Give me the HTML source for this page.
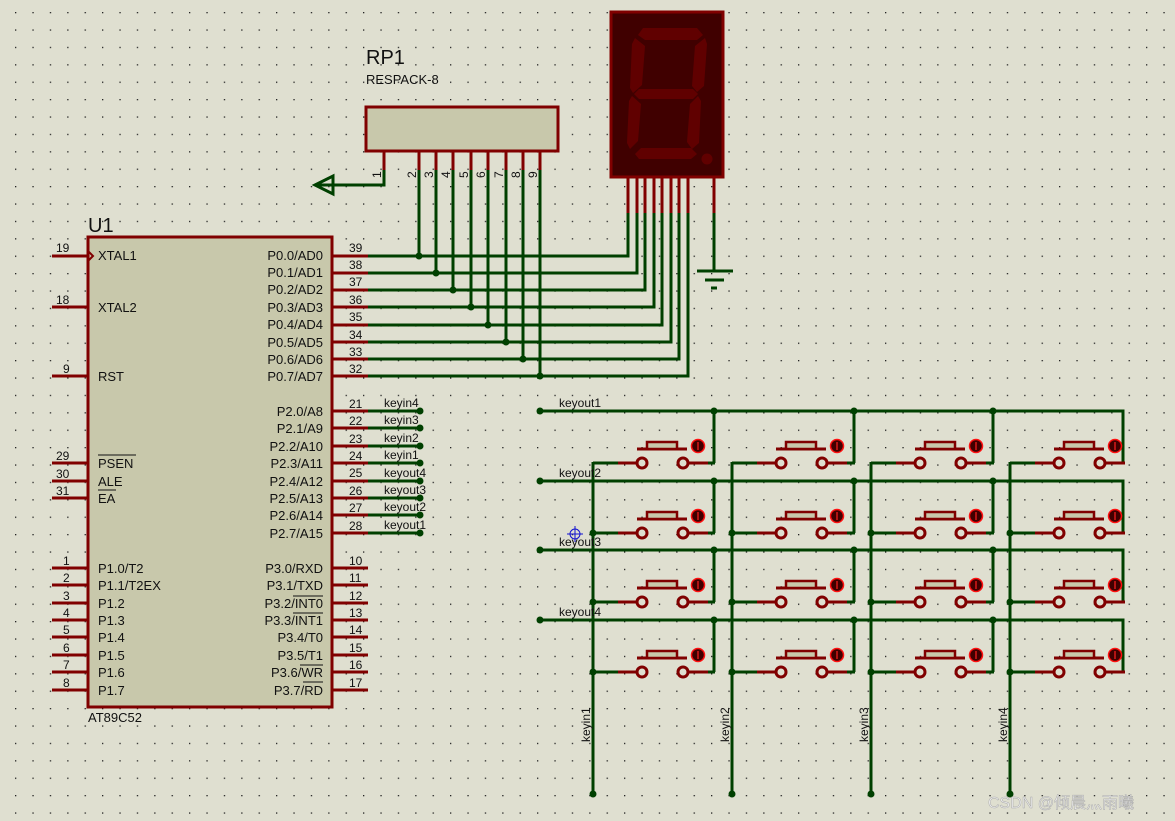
<!DOCTYPE html>
<html><head><meta charset="utf-8"><style>
html,body{margin:0;padding:0;background:#dfdfd0;}
svg{display:block;font-family:"Liberation Sans",Arial,sans-serif;}
</style></head><body>
<svg width="1175" height="821" viewBox="0 0 1175 821" xmlns="http://www.w3.org/2000/svg">
<defs>
<pattern id="dots" x="15" y="12" width="17.4" height="17.4" patternUnits="userSpaceOnUse">
<rect x="0" y="0" width="1.3" height="1.3" fill="#222"/>
</pattern>
<g id="btn">
<line x1="-24" y1="0" x2="-5" y2="0" stroke="#800000" stroke-width="3"/>
<line x1="46" y1="0" x2="66" y2="0" stroke="#800000" stroke-width="3"/>
<circle cx="0" cy="0" r="5" fill="#dfdfd0" stroke="#800000" stroke-width="3"/>
<circle cx="41" cy="0" r="5" fill="#dfdfd0" stroke="#800000" stroke-width="3"/>
<line x1="-5" y1="-14" x2="45" y2="-14" stroke="#800000" stroke-width="3"/>
<rect x="5" y="-21" width="30" height="7" fill="#c8c8ab" stroke="#800000" stroke-width="2.5"/>
<circle cx="56" cy="-17" r="6.5" fill="#400000" stroke="#ff1010" stroke-width="1.5"/>
<line x1="56" y1="-21" x2="56" y2="-13" stroke="#ff2020" stroke-width="1.2"/>
</g>
</defs>
<rect width="1175" height="821" fill="#dfdfd0"/>
<rect width="1175" height="821" fill="url(#dots)"/>

<!-- MCU -->
<text x="88" y="232" font-size="20" fill="#111">U1</text>
<rect x="88" y="237" width="244" height="470" fill="#c8c8ab" stroke="#800000" stroke-width="3"/>
<text x="88" y="722" font-size="13" fill="#111">AT89C52</text>
<g stroke="#800000" stroke-width="3">
<line x1="52" y1="256" x2="88" y2="256"/><line x1="52" y1="307" x2="88" y2="307"/><line x1="52" y1="376" x2="88" y2="376"/>
<line x1="52" y1="463" x2="88" y2="463"/><line x1="52" y1="481" x2="88" y2="481"/><line x1="52" y1="498" x2="88" y2="498"/>
<line x1="52" y1="568" x2="88" y2="568"/><line x1="52" y1="585" x2="88" y2="585"/><line x1="52" y1="603" x2="88" y2="603"/><line x1="52" y1="620" x2="88" y2="620"/>
<line x1="52" y1="637" x2="88" y2="637"/><line x1="52" y1="655" x2="88" y2="655"/><line x1="52" y1="672" x2="88" y2="672"/><line x1="52" y1="690" x2="88" y2="690"/>
<line x1="332" y1="256" x2="368" y2="256"/><line x1="332" y1="273" x2="368" y2="273"/><line x1="332" y1="290" x2="368" y2="290"/><line x1="332" y1="307" x2="368" y2="307"/>
<line x1="332" y1="325" x2="368" y2="325"/><line x1="332" y1="342" x2="368" y2="342"/><line x1="332" y1="359" x2="368" y2="359"/><line x1="332" y1="376" x2="368" y2="376"/>
<line x1="332" y1="411" x2="368" y2="411"/><line x1="332" y1="428" x2="368" y2="428"/><line x1="332" y1="446" x2="368" y2="446"/><line x1="332" y1="463" x2="368" y2="463"/>
<line x1="332" y1="481" x2="368" y2="481"/><line x1="332" y1="498" x2="368" y2="498"/><line x1="332" y1="515" x2="368" y2="515"/><line x1="332" y1="533" x2="368" y2="533"/>
<line x1="332" y1="568" x2="368" y2="568"/><line x1="332" y1="585" x2="368" y2="585"/><line x1="332" y1="603" x2="368" y2="603"/><line x1="332" y1="620" x2="368" y2="620"/>
<line x1="332" y1="637" x2="368" y2="637"/><line x1="332" y1="655" x2="368" y2="655"/><line x1="332" y1="672" x2="368" y2="672"/><line x1="332" y1="690" x2="368" y2="690"/>
</g>
<polyline points="88,251 93,256 88,261" fill="none" stroke="#800000" stroke-width="2"/>
<g font-size="12" fill="#111">
<text x="56" y="252">19</text><text x="56" y="304">18</text><text x="63" y="373">9</text>
<text x="56" y="460">29</text><text x="56" y="478">30</text><text x="56" y="495">31</text>
<text x="63" y="565">1</text><text x="63" y="582">2</text><text x="63" y="600">3</text><text x="63" y="617">4</text>
<text x="63" y="634">5</text><text x="63" y="652">6</text><text x="63" y="669">7</text><text x="63" y="687">8</text>
<text x="349" y="252">39</text><text x="349" y="269">38</text><text x="349" y="286">37</text><text x="349" y="304">36</text>
<text x="349" y="321">35</text><text x="349" y="339">34</text><text x="349" y="356">33</text><text x="349" y="373">32</text>
<text x="349" y="408">21</text><text x="349" y="425">22</text><text x="349" y="443">23</text><text x="349" y="460">24</text>
<text x="349" y="477">25</text><text x="349" y="495">26</text><text x="349" y="512">27</text><text x="349" y="530">28</text>
<text x="349" y="565">10</text><text x="349" y="582">11</text><text x="349" y="600">12</text><text x="349" y="617">13</text>
<text x="349" y="634">14</text><text x="349" y="652">15</text><text x="349" y="669">16</text><text x="349" y="687">17</text>
</g>
<g font-size="13" fill="#111">
<text x="98" y="260">XTAL1</text><text x="98" y="312">XTAL2</text><text x="98" y="381">RST</text>
<text x="98" y="468">PSEN</text><text x="98" y="486">ALE</text><text x="98" y="503">EA</text>
<text x="98" y="573">P1.0/T2</text><text x="98" y="590">P1.1/T2EX</text><text x="98" y="608">P1.2</text><text x="98" y="625">P1.3</text>
<text x="98" y="642">P1.4</text><text x="98" y="660">P1.5</text><text x="98" y="677">P1.6</text><text x="98" y="695">P1.7</text>
</g>
<g font-size="13" fill="#111" text-anchor="end">
<text x="323" y="260">P0.0/AD0</text><text x="323" y="277">P0.1/AD1</text><text x="323" y="294">P0.2/AD2</text><text x="323" y="312">P0.3/AD3</text>
<text x="323" y="329">P0.4/AD4</text><text x="323" y="347">P0.5/AD5</text><text x="323" y="364">P0.6/AD6</text><text x="323" y="381">P0.7/AD7</text>
<text x="323" y="416">P2.0/A8</text><text x="323" y="433">P2.1/A9</text><text x="323" y="451">P2.2/A10</text><text x="323" y="468">P2.3/A11</text>
<text x="323" y="486">P2.4/A12</text><text x="323" y="503">P2.5/A13</text><text x="323" y="520">P2.6/A14</text><text x="323" y="538">P2.7/A15</text>
<text x="323" y="573">P3.0/RXD</text><text x="323" y="590">P3.1/TXD</text><text x="323" y="608">P3.2/INT0</text><text x="323" y="625">P3.3/INT1</text>
<text x="323" y="642">P3.4/T0</text><text x="323" y="660">P3.5/T1</text><text x="323" y="677">P3.6/WR</text><text x="323" y="695">P3.7/RD</text>
</g>
<g stroke="#111" stroke-width="1">
<line x1="98" y1="455" x2="136" y2="455"/><line x1="98" y1="490" x2="116" y2="490"/>
<line x1="293" y1="596" x2="323" y2="596"/><line x1="293" y1="613" x2="323" y2="613"/>
<line x1="300" y1="665" x2="323" y2="665"/><line x1="303" y1="682" x2="323" y2="682"/>
</g>

<!-- RP1 -->
<text x="366" y="64" font-size="20" fill="#111">RP1</text>
<text x="366" y="84" font-size="13" fill="#111">RESPACK-8</text>
<rect x="366" y="107" width="192" height="44" fill="#c8c8ab" stroke="#800000" stroke-width="3"/>
<g stroke="#800000" stroke-width="3">
<line x1="384" y1="151" x2="384" y2="170"/><line x1="419" y1="151" x2="419" y2="170"/><line x1="436" y1="151" x2="436" y2="170"/>
<line x1="453" y1="151" x2="453" y2="170"/><line x1="471" y1="151" x2="471" y2="170"/><line x1="488" y1="151" x2="488" y2="170"/>
<line x1="506" y1="151" x2="506" y2="170"/><line x1="523" y1="151" x2="523" y2="170"/><line x1="540" y1="151" x2="540" y2="170"/>
</g>
<g font-size="12" fill="#111">
<text transform="translate(381,178) rotate(-90)">1</text>
<text transform="translate(416,178) rotate(-90)">2</text><text transform="translate(433,178) rotate(-90)">3</text>
<text transform="translate(450,178) rotate(-90)">4</text><text transform="translate(468,178) rotate(-90)">5</text>
<text transform="translate(485,178) rotate(-90)">6</text><text transform="translate(503,178) rotate(-90)">7</text>
<text transform="translate(520,178) rotate(-90)">8</text><text transform="translate(537,178) rotate(-90)">9</text>
</g>

<!-- 7 seg -->
<rect x="611" y="12" width="112" height="165" fill="#400000" stroke="#800000" stroke-width="3"/>
<g fill="#600000">
<polygon points="643,28 697,28 703,35 697,40 645,40 638,35"/>
<polygon points="635,38 645,46 642,85 633,93 630,88 632,44"/>
<polygon points="705,38 707,44 704,86 697,92 692,86 695,46"/>
<polygon points="639,89 693,89 698,94 693,99 639,99 634,94"/>
<polygon points="632,96 641,104 638,141 630,149 627,143 629,101"/>
<polygon points="698,96 701,101 699,143 692,149 687,142 690,104"/>
<polygon points="641,148 691,148 697,154 691,159 639,159 635,154"/>
<circle cx="707" cy="159" r="5.5"/>
</g>
<g stroke="#800000" stroke-width="3">
<line x1="628" y1="177" x2="628" y2="213"/><line x1="637" y1="177" x2="637" y2="213"/><line x1="645" y1="177" x2="645" y2="213"/>
<line x1="654" y1="177" x2="654" y2="213"/><line x1="662" y1="177" x2="662" y2="213"/><line x1="671" y1="177" x2="671" y2="213"/>
<line x1="679" y1="177" x2="679" y2="213"/><line x1="688" y1="177" x2="688" y2="213"/><line x1="714" y1="177" x2="714" y2="213"/>
</g>

<!-- green wires -->
<g stroke="#004000" stroke-width="3" fill="none">
<polyline points="384,170 384,185 318,185"/>
<polyline points="368,256 628,256 628,213"/><polyline points="368,273 637,273 637,213"/>
<polyline points="368,290 645,290 645,213"/><polyline points="368,307 654,307 654,213"/>
<polyline points="368,325 662,325 662,213"/><polyline points="368,342 671,342 671,213"/>
<polyline points="368,359 679,359 679,213"/><polyline points="368,376 688,376 688,213"/>
<line x1="419" y1="170" x2="419" y2="256"/><line x1="436" y1="170" x2="436" y2="273"/>
<line x1="453" y1="170" x2="453" y2="290"/><line x1="471" y1="170" x2="471" y2="307"/>
<line x1="488" y1="170" x2="488" y2="325"/><line x1="506" y1="170" x2="506" y2="342"/>
<line x1="523" y1="170" x2="523" y2="359"/><line x1="540" y1="170" x2="540" y2="376"/>
<line x1="714" y1="213" x2="714" y2="271"/>
<line x1="697" y1="271" x2="733" y2="271"/><line x1="705" y1="280" x2="724" y2="280"/><line x1="711" y1="288" x2="717" y2="288"/>
<line x1="368" y1="411" x2="420" y2="411"/><line x1="368" y1="428" x2="420" y2="428"/><line x1="368" y1="446" x2="420" y2="446"/>
<line x1="368" y1="463" x2="420" y2="463"/><line x1="368" y1="481" x2="420" y2="481"/><line x1="368" y1="498" x2="420" y2="498"/>
<line x1="368" y1="515" x2="420" y2="515"/><line x1="368" y1="533" x2="420" y2="533"/>
<polyline points="540,411 1123,411 1123,463 1125,463"/>
<polyline points="540,481 1123,481 1123,533 1125,533"/>
<polyline points="540,550 1123,550 1123,602 1125,602"/>
<polyline points="540,620 1123,620 1123,672 1125,672"/>
<line x1="714" y1="411" x2="714" y2="463"/><line x1="854" y1="411" x2="854" y2="463"/><line x1="993" y1="411" x2="993" y2="463"/>
<line x1="714" y1="481" x2="714" y2="533"/><line x1="854" y1="481" x2="854" y2="533"/><line x1="993" y1="481" x2="993" y2="533"/>
<line x1="714" y1="550" x2="714" y2="602"/><line x1="854" y1="550" x2="854" y2="602"/><line x1="993" y1="550" x2="993" y2="602"/>
<line x1="714" y1="620" x2="714" y2="672"/><line x1="854" y1="620" x2="854" y2="672"/><line x1="993" y1="620" x2="993" y2="672"/>
<line x1="593" y1="462" x2="593" y2="794"/><line x1="732" y1="462" x2="732" y2="794"/>
<line x1="871" y1="462" x2="871" y2="794"/><line x1="1010" y1="462" x2="1010" y2="794"/>
</g>
<g stroke="#004000" stroke-width="3">
<line x1="593" y1="463" x2="618" y2="463"/><line x1="707" y1="463" x2="715" y2="463"/>
<line x1="732" y1="463" x2="757" y2="463"/><line x1="846" y1="463" x2="855" y2="463"/>
<line x1="871" y1="463" x2="896" y2="463"/><line x1="985" y1="463" x2="994" y2="463"/>
<line x1="1010" y1="463" x2="1035" y2="463"/>
<line x1="593" y1="533" x2="618" y2="533"/><line x1="707" y1="533" x2="715" y2="533"/>
<line x1="732" y1="533" x2="757" y2="533"/><line x1="846" y1="533" x2="855" y2="533"/>
<line x1="871" y1="533" x2="896" y2="533"/><line x1="985" y1="533" x2="994" y2="533"/>
<line x1="1010" y1="533" x2="1035" y2="533"/>
<line x1="593" y1="602" x2="618" y2="602"/><line x1="707" y1="602" x2="715" y2="602"/>
<line x1="732" y1="602" x2="757" y2="602"/><line x1="846" y1="602" x2="855" y2="602"/>
<line x1="871" y1="602" x2="896" y2="602"/><line x1="985" y1="602" x2="994" y2="602"/>
<line x1="1010" y1="602" x2="1035" y2="602"/>
<line x1="593" y1="672" x2="618" y2="672"/><line x1="707" y1="672" x2="715" y2="672"/>
<line x1="732" y1="672" x2="757" y2="672"/><line x1="846" y1="672" x2="855" y2="672"/>
<line x1="871" y1="672" x2="896" y2="672"/><line x1="985" y1="672" x2="994" y2="672"/>
<line x1="1010" y1="672" x2="1035" y2="672"/>
</g>
<polygon points="315,185 333,176 333,194" fill="none" stroke="#004000" stroke-width="3"/>

<use href="#btn" x="642" y="463"/><use href="#btn" x="781" y="463"/><use href="#btn" x="920" y="463"/><use href="#btn" x="1059" y="463"/>
<use href="#btn" x="642" y="533"/><use href="#btn" x="781" y="533"/><use href="#btn" x="920" y="533"/><use href="#btn" x="1059" y="533"/>
<use href="#btn" x="642" y="602"/><use href="#btn" x="781" y="602"/><use href="#btn" x="920" y="602"/><use href="#btn" x="1059" y="602"/>
<use href="#btn" x="642" y="672"/><use href="#btn" x="781" y="672"/><use href="#btn" x="920" y="672"/><use href="#btn" x="1059" y="672"/>

<g fill="#004000">
<circle cx="419" cy="256" r="3.5"/><circle cx="436" cy="273" r="3.5"/><circle cx="453" cy="290" r="3.5"/><circle cx="471" cy="307" r="3.5"/>
<circle cx="488" cy="325" r="3.5"/><circle cx="506" cy="342" r="3.5"/><circle cx="523" cy="359" r="3.5"/><circle cx="540" cy="376" r="3.5"/>
<circle cx="420" cy="411" r="3.5"/><circle cx="420" cy="428" r="3.5"/><circle cx="420" cy="446" r="3.5"/><circle cx="420" cy="463" r="3.5"/>
<circle cx="420" cy="481" r="3.5"/><circle cx="420" cy="498" r="3.5"/><circle cx="420" cy="515" r="3.5"/><circle cx="420" cy="533" r="3.5"/>
<circle cx="540" cy="411" r="3.5"/><circle cx="540" cy="481" r="3.5"/><circle cx="540" cy="550" r="3.5"/><circle cx="540" cy="620" r="3.5"/>
<circle cx="714" cy="411" r="3.5"/><circle cx="854" cy="411" r="3.5"/><circle cx="993" cy="411" r="3.5"/>
<circle cx="714" cy="481" r="3.5"/><circle cx="854" cy="481" r="3.5"/><circle cx="993" cy="481" r="3.5"/>
<circle cx="714" cy="550" r="3.5"/><circle cx="854" cy="550" r="3.5"/><circle cx="993" cy="550" r="3.5"/>
<circle cx="714" cy="620" r="3.5"/><circle cx="854" cy="620" r="3.5"/><circle cx="993" cy="620" r="3.5"/>
<circle cx="593" cy="533" r="3.5"/><circle cx="732" cy="533" r="3.5"/><circle cx="871" cy="533" r="3.5"/><circle cx="1010" cy="533" r="3.5"/>
<circle cx="593" cy="602" r="3.5"/><circle cx="732" cy="602" r="3.5"/><circle cx="871" cy="602" r="3.5"/><circle cx="1010" cy="602" r="3.5"/>
<circle cx="593" cy="672" r="3.5"/><circle cx="732" cy="672" r="3.5"/><circle cx="871" cy="672" r="3.5"/><circle cx="1010" cy="672" r="3.5"/>
<circle cx="593" cy="794" r="3.5"/><circle cx="732" cy="794" r="3.5"/><circle cx="871" cy="794" r="3.5"/><circle cx="1010" cy="794" r="3.5"/>
</g>

<g font-size="12" fill="#111">
<text x="384" y="407">keyin4</text><text x="384" y="424">keyin3</text><text x="384" y="442">keyin2</text><text x="384" y="459">keyin1</text>
<text x="384" y="477">keyout4</text><text x="384" y="494">keyout3</text><text x="384" y="511">keyout2</text><text x="384" y="529">keyout1</text>
<text x="559" y="407">keyout1</text><text x="559" y="477">keyout2</text><text x="559" y="546">keyout3</text><text x="559" y="616">keyout4</text>
<text transform="translate(590,742) rotate(-90)">keyin1</text><text transform="translate(729,742) rotate(-90)">keyin2</text>
<text transform="translate(868,742) rotate(-90)">keyin3</text><text transform="translate(1007,742) rotate(-90)">keyin4</text>
</g>
<g stroke="#1010d0" stroke-width="1" fill="none">
<circle cx="575" cy="534" r="5"/><line x1="567" y1="534" x2="583" y2="534"/><line x1="575" y1="526" x2="575" y2="542"/>
</g>
<text x="988" y="808" font-size="16" fill="#eeeeee" stroke="#aaaaaa" stroke-width="0.5" font-family="Liberation Sans, 'Noto Sans CJK SC', sans-serif">CSDN @倾晨灬雨曦</text>
</svg>
</body></html>
